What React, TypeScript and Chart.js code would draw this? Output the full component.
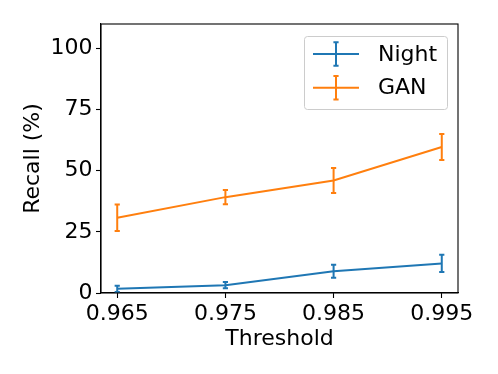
import React, { useEffect, useRef } from "react";
import { Chart, registerables } from "chart.js";

Chart.register(...registerables);

const thresholds = [0.965, 0.975, 0.985, 0.995];
const xTickValues = [0.965, 0.975, 0.985, 0.995];
const yTickValues = [0, 25, 50, 75, 100];

const nightRecall = [1.7, 3.2, 8.9, 12.1];
const nightErr = [1.3, 1.3, 2.7, 3.5];
const ganRecall = [30.8, 39.2, 46.0, 59.7];
const ganErr = [5.4, 2.9, 5.1, 5.3];

const seriesNames = ["Night", "GAN"];
const BLUE = "#1f77b4";
const ORANGE = "#ff7f0e";
const FONT = "'DejaVu Sans', sans-serif";

const series = [
  { name: seriesNames[0], values: nightRecall, err: nightErr, color: BLUE },
  { name: seriesNames[1], values: ganRecall, err: ganErr, color: ORANGE },
];

const overlay = {
  id: "overlay",
  afterDatasetsDraw(chart: any) {
    const { ctx, scales } = chart;
    const xs = scales.x;
    const ys = scales.y;
    const cap = 2.6;
    series.forEach((s) => {
      ctx.save();
      ctx.strokeStyle = s.color;
      ctx.lineWidth = 2;
      ctx.lineCap = "butt";
      s.values.forEach((v, i) => {
        const px = xs.getPixelForValue(thresholds[i]);
        const top = ys.getPixelForValue(v + s.err[i]);
        const bot = ys.getPixelForValue(v - s.err[i]);
        ctx.beginPath();
        ctx.moveTo(px, top);
        ctx.lineTo(px, bot);
        ctx.moveTo(px - cap, top);
        ctx.lineTo(px + cap, top);
        ctx.moveTo(px - cap, bot);
        ctx.lineTo(px + cap, bot);
        ctx.stroke();
      });
      ctx.restore();
    });
  },
  afterDraw(chart: any) {
    const { ctx, chartArea } = chart;
    // frame (all four spines)
    ctx.save();
    ctx.strokeStyle = "#000";
    ctx.lineWidth = 1.1;
    ctx.strokeRect(
      chartArea.left,
      chartArea.top,
      chartArea.right - chartArea.left,
      chartArea.bottom - chartArea.top
    );
    ctx.restore();

    // legend
    const bx = chartArea.right - 154;
    const by = chartArea.top + 12;
    const bw = 143;
    const bh = 73;
    ctx.save();
    ctx.globalAlpha = 0.8;
    ctx.fillStyle = "#fff";
    ctx.beginPath();
    (ctx as any).roundRect(bx + 0.5, by + 0.5, bw, bh, 3);
    ctx.fill();
    ctx.globalAlpha = 1;
    ctx.strokeStyle = "#cccccc";
    ctx.lineWidth = 1;
    ctx.stroke();
    ctx.restore();

    series.forEach((s, i) => {
      const cy = by + 18 + i * 33.7;
      const x0 = bx + 9;
      const x1 = bx + 55;
      const xm = (x0 + x1) / 2;
      ctx.save();
      ctx.strokeStyle = s.color;
      ctx.lineWidth = 2;
      ctx.beginPath();
      ctx.moveTo(x0, cy);
      ctx.lineTo(x1, cy);
      ctx.moveTo(xm, cy - 11.7);
      ctx.lineTo(xm, cy + 11.7);
      ctx.moveTo(xm - 2.6, cy - 11.7);
      ctx.lineTo(xm + 2.6, cy - 11.7);
      ctx.moveTo(xm - 2.6, cy + 11.7);
      ctx.lineTo(xm + 2.6, cy + 11.7);
      ctx.stroke();
      ctx.fillStyle = "#000";
      ctx.font = `22px ${FONT}`;
      ctx.textAlign = "left";
      ctx.textBaseline = "middle";
      ctx.fillText(s.name, bx + 74, cy + 1);
      ctx.restore();
    });
  },
};

export default function App() {
  const ref = useRef<HTMLCanvasElement>(null);
  useEffect(() => {
    if (!ref.current) return;
    const chart = new Chart(ref.current, {
      type: "line",
      data: {
        datasets: series.map((s) => ({
          label: s.name,
          data: thresholds.map((t, i) => ({ x: t, y: s.values[i] })),
          borderColor: s.color,
          backgroundColor: s.color,
          borderWidth: 2,
          pointRadius: 0,
          tension: 0,
          fill: false,
        })),
      },
      options: {
        animation: false,
        responsive: false,
        devicePixelRatio: 1,
        layout: { padding: { top: 24, right: 40, left: 0, bottom: 0 } },
        plugins: {
          legend: { display: false },
          tooltip: { enabled: false },
        },
        scales: {
          x: {
            type: "linear",
            min: 0.9635,
            max: 0.9965,
            afterBuildTicks: (scale: any) => {
              scale.ticks = xTickValues.map((v) => ({ value: v }));
            },
            afterFit: (scale: any) => {
              scale.height = 81;
            },
            ticks: {
              autoSkip: false,
              maxRotation: 0,
              minRotation: 0,
              padding: 3,
              color: "#000",
              font: { family: FONT, size: 22 },
              callback: (v: any) => Number(v).toFixed(3),
            },
            grid: {
              drawOnChartArea: false,
              drawTicks: true,
              tickLength: 5,
              tickWidth: 1.1,
              tickColor: "#000",
            },
            border: { display: true, color: "#000", width: 1.1 },
            title: {
              display: true,
              text: "Threshold",
              color: "#000",
              font: { family: FONT, size: 22 },
              padding: { top: 0, bottom: 22 },
            },
          },
          y: {
            type: "linear",
            min: 0,
            max: 110,
            afterBuildTicks: (scale: any) => {
              scale.ticks = yTickValues.map((v) => ({ value: v }));
            },
            afterFit: (scale: any) => {
              scale.width = 101;
            },
            ticks: {
              padding: 3.5,
              color: "#000",
              font: { family: FONT, size: 22 },
              callback: (v: any) => String(v),
            },
            grid: {
              drawOnChartArea: false,
              drawTicks: true,
              tickLength: 5,
              tickWidth: 1.1,
              tickColor: "#000",
            },
            border: { display: true, color: "#000", width: 1.1 },
            title: {
              display: true,
              text: "Recall (%)",
              color: "#000",
              font: { family: FONT, size: 22 },
              padding: { top: 20, bottom: 0 },
            },
          },
        },
      },
      plugins: [overlay],
    } as any);
    return () => chart.destroy();
  }, []);
  return (
    <div style={{ position: "absolute", left: 0, top: 0, width: 498, height: 374, background: "#fff" }}>
      <canvas ref={ref} width={498} height={374} />
    </div>
  );
}
